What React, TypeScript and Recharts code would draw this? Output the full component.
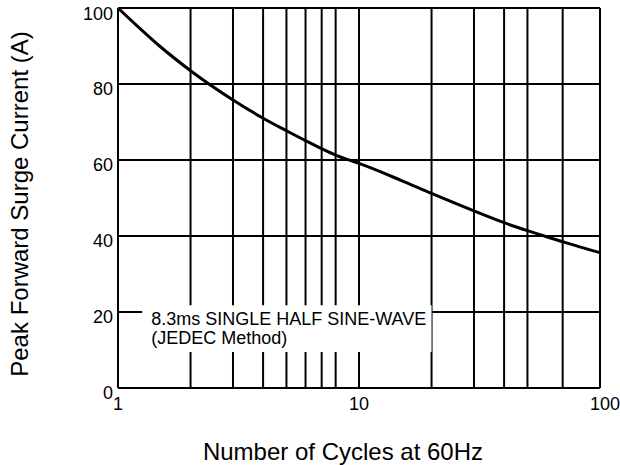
import {
  LineChart,
  Line,
  XAxis,
  YAxis,
  CartesianGrid,
  ReferenceArea
} from "recharts";

// (log x)
const cycles = [1, 1.2, 1.5, 2, 3, 4, 5, 6, 7, 8, 9, 10, 15, 20, 30, 40, 50, 60, 70, 80, 90, 100]
const current = [100, 95.3, 89.8, 83.5, 75.8, 71, 67.7, 65.1, 63, 61.3, 60.1, 59.1, 54.6, 51.2, 46.6, 43.5, 41.4, 39.8, 38.5, 37.4, 36.4, 35.6]

const xTicks = [1, 10, 100]
const yTicks = [0, 20, 40, 60, 80, 100]
const gridX = [2, 3, 4, 5, 6, 7, 8, 9, 10, 20, 30, 40, 50, 60, 70, 80, 90, 100]
const gridY = [20, 40, 60, 80, 100]

const noteLines = ["8.3ms SINGLE HALF SINE-WAVE", "(JEDEC Method)"]
const noteBox = { x1: 1.26, x2: 20, y1: 9.5, y2: 21.8 }

const font = "'Liberation Sans', Arial, Helvetica, sans-serif"

const data = cycles.map((c, i) => ({ x: c, y: current[i] }))

const YTick = ({ x, y, payload }: any) => (
  <text x={x + 3} y={y + 5} textAnchor="end" dominantBaseline="central" fontSize={18} fontFamily={font} fill="#000">
    {payload.value}
  </text>
)

const XTick = ({ x, y, payload }: any) => (
  <text x={x + (payload.value === 100 ? 5 : 0)} y={y + 8} textAnchor="middle" dominantBaseline="central" fontSize={18} fontFamily={font} fill="#000">
    {payload.value}
  </text>
)

export default function App() {
  return (
    <div style={{ width: 620, height: 465 }}>
      <style>{`body{margin:0}`}</style>
      <LineChart width={620} height={465} data={data} margin={{ top: 8, right: 20, left: 0, bottom: 0 }}>
        <CartesianGrid
          horizontalValues={gridY}
          verticalValues={gridX}
          stroke="#000"
          strokeWidth={2}
        />
        <XAxis
          dataKey="x"
          type="number"
          scale="log"
          domain={[1, 100]}
          ticks={xTicks}
          allowDataOverflow
          height={77}
          tickLine={false}
          axisLine={{ stroke: "#000", strokeWidth: 2 }}
          tick={<XTick />}
          label={{
            content: ({ viewBox }: any) => (
              <text
                x={viewBox.x + viewBox.width / 2 - 16}
                y={460}
                textAnchor="middle"
                fontSize={24}
                fontFamily={font}
                fill="#000"
              >
                Number of Cycles at 60Hz
              </text>
            )
          }}
        />
        <YAxis
          type="number"
          domain={[0, 100]}
          ticks={yTicks}
          width={118}
          tickLine={false}
          axisLine={{ stroke: "#000", strokeWidth: 2 }}
          tick={<YTick />}
          label={{
            content: ({ viewBox }: any) => {
              const cy = viewBox.y + viewBox.height / 2 + 6
              return (
                <text
                  x={19}
                  y={cy}
                  transform={`rotate(-90 19 ${cy})`}
                  textAnchor="middle"
                  dominantBaseline="central"
                  fontSize={24}
                  fontFamily={font}
                  fill="#000"
                >
                  Peak Forward Surge Current (A)
                </text>
              )
            }
          }}
        />
        <ReferenceArea
          x1={noteBox.x1}
          x2={noteBox.x2}
          y1={noteBox.y1}
          y2={noteBox.y2}
          fill="#fff"
          fillOpacity={1}
          stroke="none"
          label={{
            content: ({ viewBox }: any) => (
              <text x={viewBox.x + 9} fontSize={18} fontFamily={font} fill="#000">
                <tspan x={viewBox.x + 9} y={viewBox.y + 20}>{noteLines[0]}</tspan>
                <tspan x={viewBox.x + 9} y={viewBox.y + 39}>{noteLines[1]}</tspan>
              </text>
            )
          }}
        />
        <Line
          dataKey="y"
          type="monotone"
          stroke="#000"
          strokeWidth={3}
          dot={false}
          isAnimationActive={false}
        />
      </LineChart>
    </div>
  )
}
